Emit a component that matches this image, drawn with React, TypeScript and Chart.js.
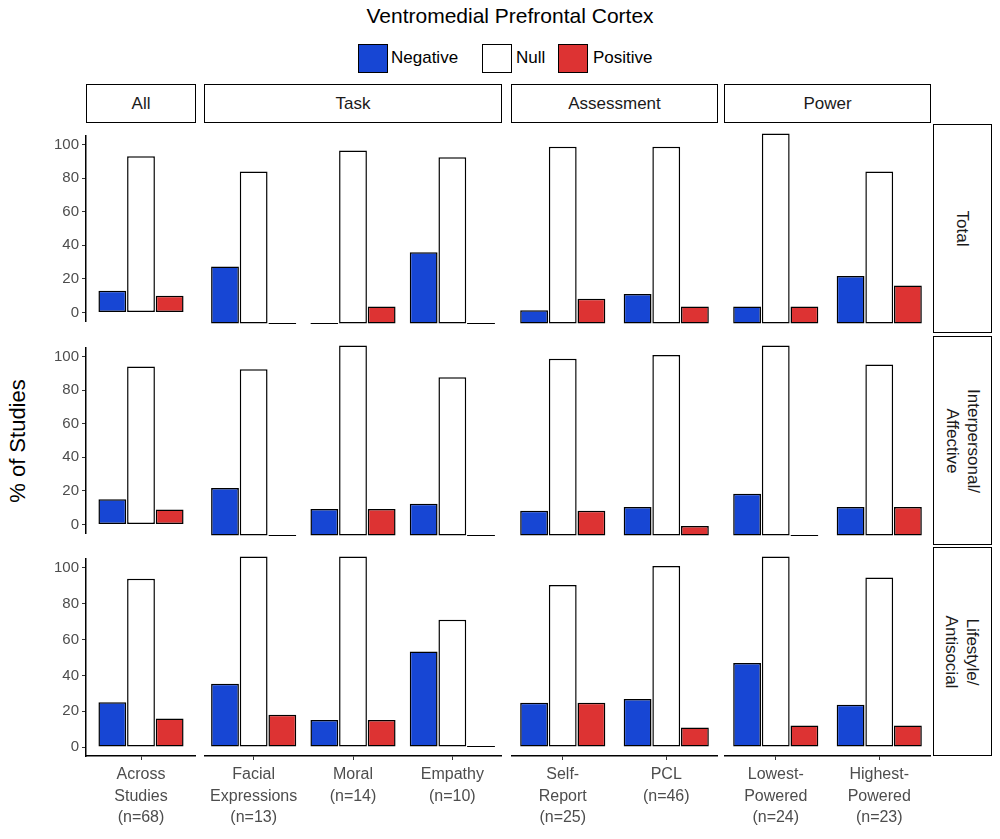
import React, { useEffect, useRef } from "react";
import { Chart, registerables } from "chart.js";
Chart.register(...registerables);

const FONT = "'Liberation Sans', Arial, sans-serif";
const seriesNames = ["Negative", "Null", "Positive"];
const seriesColors = ["#1746d4", "#ffffff", "#dd3333"];
const colFacets = ["All", "Task", "Assessment", "Power"];
const rowFacets = [["Total"], ["Interpersonal/", "Affective"], ["Lifestyle/", "Antisocial"]];
const colCategories: string[][][] = [
  [["Across", "Studies", "(n=68)"]],
  [["Facial", "Expressions", "(n=13)"], ["Moral", "(n=14)"], ["Empathy", "(n=10)"]],
  [["Self-", "Report", "(n=25)"], ["PCL", "(n=46)"]],
  [["Lowest-", "Powered", "(n=24)"], ["Highest-", "Powered", "(n=23)"]],
];
const yTicks = [0, 10, 20, 30, 40, 50, 60, 70, 80, 90, 100];
const totalNeg = [[13], [30, 0, 37.5], [7, 15.5], [9, 25]];
const totalNull = [[93], [80, 91, 87.5], [93, 93], [100, 80]];
const totalPos = [[10], [0, 9, 0], [13, 9], [9, 20]];
const interNeg = [[15], [25, 14, 16.7], [13, 15], [22, 15]];
const interNull = [[94], [87.5, 100, 83.3], [93, 95], [100, 90]];
const interPos = [[9], [0, 14, 0], [13, 5], [0, 15]];
const lifeNeg = [[25], [33, 14, 50], [23, 25], [44, 22]];
const lifeNull = [[94], [100, 100, 66.7], [85, 95], [100, 89]];
const lifePos = [[16], [16.7, 14, 0], [23, 10], [11, 11]];
const rowData = [
  [totalNeg, totalNull, totalPos],
  [interNeg, interNull, interPos],
  [lifeNeg, lifeNull, lifePos],
];

const colX = [[86, 196], [204, 502], [511, 718], [724, 931]];
const rowY = [[124, 333], [336, 545], [547, 756]];
const YAXW = 56;
const XAXH = 84;

function Panel({ r, c }: { r: number; c: number }) {
  const ref = useRef<HTMLCanvasElement>(null);
  const firstCol = c === 0;
  const lastRow = r === 2;
  const pw = colX[c][1] - colX[c][0];
  const ph = rowY[r][1] - rowY[r][0];
  const w = pw + (firstCol ? YAXW : 0);
  const h = ph + (lastRow ? XAXH : 0);
  const left = colX[c][0] - (firstCol ? YAXW : 0);
  const top = rowY[r][0];
  useEffect(() => {
    const cats = colCategories[c];
    const catPct = Math.min(1, 86 / (pw / cats.length));
    const chart = new Chart(ref.current!, {
      type: "bar",
      data: {
        labels: cats.map((_, i) => String(i)),
        datasets: seriesNames.map((n, s) => ({
          label: n,
          data: rowData[r][s][c],
          backgroundColor: seriesColors[s],
          borderColor: "#000",
          borderWidth: 1.5,
          borderSkipped: false,
          minBarLength: 1,
          categoryPercentage: catPct,
          barPercentage: 0.97,
        })),
      },
      options: {
        animation: false,
        responsive: false,
        maintainAspectRatio: false,
        layout: { padding: 0 },
        plugins: { legend: { display: false }, tooltip: { enabled: false } },
        scales: {
          x: {
            display: lastRow,
            grid: { drawOnChartArea: false, drawTicks: true, tickLength: 4, color: "#333", offset: false },
            border: { display: true, color: "#000", width: 1.5 },
            ticks: {
              color: "#4d4d4d",
              font: { family: FONT, size: 16, lineHeight: 1.35 },
              padding: 4,
              maxRotation: 0,
              autoSkip: false,
              callback: (_v: any, i: number) => cats[i],
            },
            afterFit: (s: any) => { if (lastRow) s.height = XAXH; },
          },
          y: {
            display: firstCol,
            min: -5,
            max: 105,
            afterBuildTicks: (s: any) => { s.ticks = yTicks.map((v) => ({ value: v })); },
            grid: { drawOnChartArea: false, drawTicks: true, tickLength: 4, color: "#333" },
            border: { display: true, color: "#000", width: 1.5 },
            ticks: { color: "#4d4d4d", font: { family: FONT, size: 15 }, padding: 3 },
            afterFit: (s: any) => { if (firstCol) s.width = YAXW; },
          },
        },
      },
    });
    return () => chart.destroy();
  }, []);
  return (
    <canvas ref={ref} width={w} height={h}
      style={{ position: "absolute", left, top, width: w, height: h }} />
  );
}

const stripStyle: React.CSSProperties = {
  position: "absolute", border: "1.5px solid #000", background: "#fff", boxSizing: "border-box",
  display: "flex", alignItems: "center", justifyContent: "center", color: "#1a1a1a",
  fontFamily: FONT, fontSize: 17,
};

export default function App() {
  const panels = [];
  for (let r = 0; r < 3; r++) for (let c = 0; c < 4; c++) panels.push(<Panel key={r + "-" + c} r={r} c={c} />);
  return (
    <div style={{ position: "absolute", left: 0, top: 0, width: 1000, height: 839, background: "#fff", fontFamily: FONT }}>
      <div style={{ position: "absolute", left: 0, width: 1020, top: 4, textAlign: "center", fontSize: 21, color: "#000" }}>
        Ventromedial Prefrontal Cortex
      </div>
      {[["Negative", 358, 391], ["Null", 482, 516], ["Positive", 558, 593]].map(([n, bx, tx], i) => (
        <React.Fragment key={n as string}>
          <div style={{ position: "absolute", left: bx as number, top: 44, width: 30, height: 29, boxSizing: "border-box", border: "1.5px solid #000", background: seriesColors[i] }} />
          <div style={{ position: "absolute", left: tx as number, top: 48, fontSize: 17, color: "#000" }}>{n}</div>
        </React.Fragment>
      ))}
      {colFacets.map((f, c) => (
        <div key={f} style={{ ...stripStyle, left: colX[c][0], top: 84, width: colX[c][1] - colX[c][0], height: 39 }}>{f}</div>
      ))}
      {rowFacets.map((lines, r) => (
        <div key={r} style={{ ...stripStyle, left: 933, top: rowY[r][0], width: 59, height: rowY[r][1] - rowY[r][0] }}>
          <div style={{ transform: "rotate(90deg)", whiteSpace: "nowrap", textAlign: "center", lineHeight: "21px" }}>
            {lines.map((l) => <div key={l}>{l}</div>)}
          </div>
        </div>
      ))}
      <div style={{ position: "absolute", left: -62, top: 428, width: 160, textAlign: "center", transform: "rotate(-90deg)", fontSize: 22, color: "#000" }}>
        % of Studies
      </div>
      {panels}
    </div>
  );
}
